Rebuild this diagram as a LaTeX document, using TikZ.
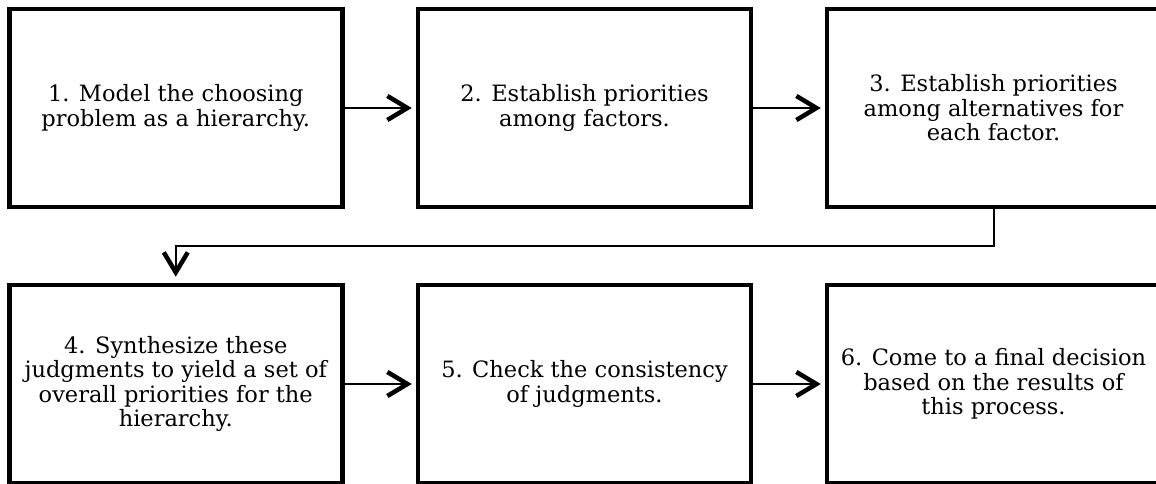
\documentclass[tikz,border=0pt]{standalone}
\usepackage{fontspec}
\setmainfont{DejaVu Serif}
\usetikzlibrary{arrows.meta}
\begin{document}
\begin{tikzpicture}[x=1pt,y=1pt,
  stepbox/.style={draw=black, line width=4.5pt, minimum width=333pt, minimum height=198pt,
    inner sep=0pt, align=center, font=\fontsize{22.5}{24.5}\selectfont},
  flow/.style={line width=2pt, -{Straight Barb[length=20pt,width=24pt,line width=4.5pt]}, shorten >=4pt}
]
\clip (0,0) rectangle (1156,484);
\fill[white] (0,0) rectangle (1156,484);

% top row
\node[stepbox] (s1) at (175.75,376) {1. Model the choosing\\problem as a hierarchy.};
\node[stepbox] (s2) at (584.5,376) {2. Establish priorities\\among factors.};
\node[stepbox] (s3) at (993.5,376) {3. Establish priorities\\among alternatives for\\each factor.};

% bottom row
\node[stepbox] (s4) at (175.75,100) {4. Synthesize these\\judgments to yield a set of\\overall priorities for the\\hierarchy.};
\node[stepbox] (s5) at (584.5,100) {5. Check the consistency\\of judgments.};
\node[stepbox] (s6) at (993.5,100) {6. Come to a final decision\\based on the results of\\this process.};

% connectors
\draw[flow] (s1.east) -- (s2.west);
\draw[flow] (s2.east) -- (s3.west);
\coordinate (bend) at (0,238);
\draw[flow, shorten >=6pt] (s3.south) -- (s3.south |- bend) -| (s4.north);
\draw[flow] (s4.east) -- (s5.west);
\draw[flow] (s5.east) -- (s6.west);
\end{tikzpicture}
\end{document}
